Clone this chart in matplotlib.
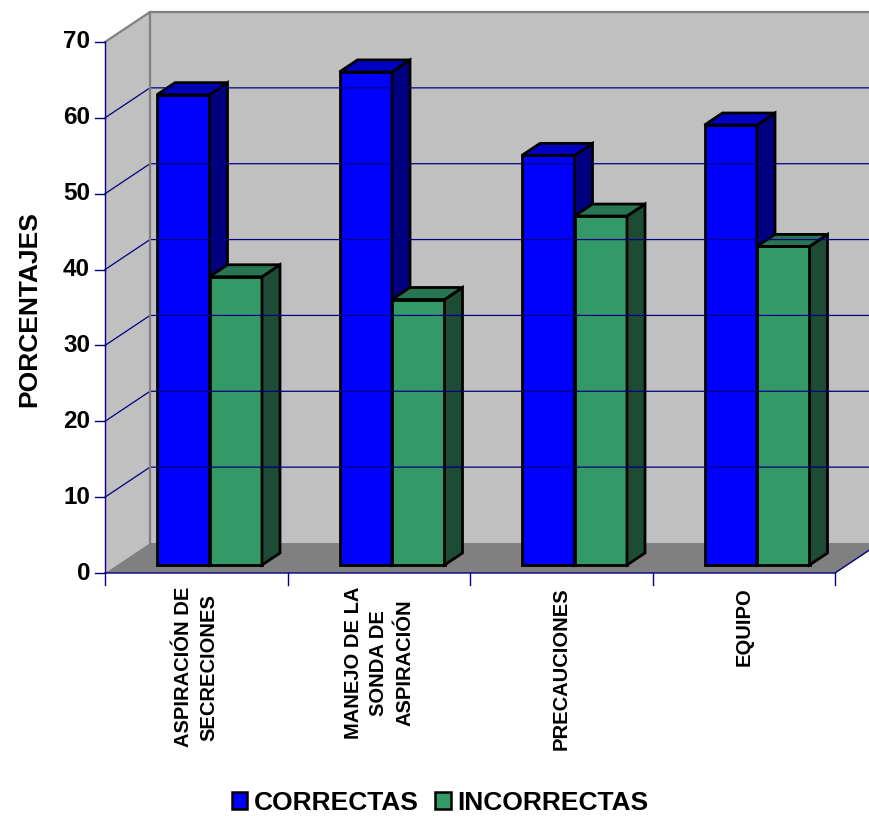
import numpy as np
import matplotlib.pyplot as plt
from matplotlib.patches import Polygon, Patch

plt.rcParams['font.family'] = ['Liberation Sans', 'DejaVu Sans']
plt.rcParams['font.weight'] = 'bold'

# datos de la encuesta (%)
categorias = ['ASPIRACIÓN DE\nSECRECIONES', 'MANEJO DE LA\nSONDA DE\nASPIRACIÓN',
              'PRECAUCIONES', 'EQUIPO']
correctas = [62, 65, 54, 58]
incorrectas = [38, 35, 46, 42]
series = ['CORRECTAS', 'INCORRECTAS']
y_ticks = np.arange(0, 80, 10)

# colores (frente, lado, tapa)
colores = {
    'CORRECTAS': ('#0000FF', '#000080', '#0000C4'),
    'INCORRECTAS': ('#339966', '#1C4C33', '#287552'),
}

# proyeccion oblicua: profundidad total del grafico en unidades de datos
DX = 45 / 182.5
DY = 30 / (531 / 70)
ANCHO = 52.5 / 182.5
HUECO = 40 / 182.5
D0, D1 = 8 / 30, 20 / 30
YMAX = 70


def P(x, v, d):
    return (x + d * DX, v + d * DY)


fig = plt.figure(figsize=(8.69, 8.16), dpi=100)
ax = fig.add_axes([0, 0, 1, 1])
ax.set_xlim(-105 / 182.5, (869 - 105) / 182.5)
ax.set_ylim(-(816 - 573) / (531 / 70), 573 / (531 / 70))
ax.axis('off')

n = len(categorias)
xr = n + 1  # la pared del fondo sigue hasta el borde

# paredes y piso
ax.add_patch(Polygon([P(0, 0, 0), P(0, YMAX, 0), P(0, YMAX, 1), P(0, 0, 1)],
                     closed=True, facecolor='#C0C0C0', edgecolor='none'))
ax.add_patch(Polygon([P(0, 0, 1), P(xr, 0, 1), P(xr, YMAX, 1), P(0, YMAX, 1)],
                     closed=True, facecolor='#C0C0C0', edgecolor='none'))
ax.add_patch(Polygon([P(0, 0, 0), P(n, 0, 0), P(n, 0, 1), P(0, 0, 1)],
                     closed=True, facecolor='#808080', edgecolor='none'))

# lineas de division
for v in y_ticks[1:-1]:
    pts = [P(0, v, 0), P(0, v, 1), P(xr, v, 1)]
    ax.plot([p[0] for p in pts], [p[1] for p in pts], color='#000080', lw=0.9)

# bordes grises de las paredes
pts = [P(0, YMAX, 0), P(0, YMAX, 1), P(xr, YMAX, 1)]
ax.plot([p[0] for p in pts], [p[1] for p in pts], color='#808080', lw=1.6)
pts = [P(0, YMAX, 1), P(0, 0, 1)]
ax.plot([p[0] for p in pts], [p[1] for p in pts], color='#808080', lw=1.6)

# ejes
ax.plot([0, 0], [0, YMAX], color='#000080', lw=1.0)
pts = [P(0, 0, 0), P(n, 0, 0), P(n, 0, 1)]
ax.plot([p[0] for p in pts], [p[1] for p in pts], color='#000080', lw=1.0)
for v in y_ticks:
    ax.plot([-10 / 182.5, 0], [v, v], color='#000080', lw=1.0)
    ax.text(-15 / 182.5, v, str(v), ha='right', va='center',
            fontsize=17.5, fontweight='bold')
for i in range(n + 1):
    ax.plot([i, i], [0, -12 / (531 / 70)], color='#000080', lw=1.0)

# barras
for i in range(n):
    for j, (nombre, vals) in enumerate(zip(series, [correctas, incorrectas])):
        v = vals[i]
        x0 = i + HUECO + j * ANCHO
        x1 = x0 + ANCHO
        frente, lado, tapa = colores[nombre]
        caras = [
            ([P(x0, 0, D0), P(x1, 0, D0), P(x1, v, D0), P(x0, v, D0)], frente),
            ([P(x1, 0, D0), P(x1, 0, D1), P(x1, v, D1), P(x1, v, D0)], lado),
            ([P(x0, v, D0), P(x1, v, D0), P(x1, v, D1), P(x0, v, D1)], tapa),
        ]
        for pts, c in caras:
            ax.add_patch(Polygon(pts, closed=True, facecolor=c,
                                 edgecolor='black', lw=2.0, joinstyle='miter'))

# etiquetas de categorias
for i, cat in enumerate(categorias):
    ax.text(i + 0.5, -14 / (531 / 70), cat, rotation=90, ha='center', va='top',
            multialignment='center', fontsize=14.5, fontweight='bold',
            linespacing=1.45)

ax.text(-76 / 182.5, (573 - 309) / (531 / 70), 'PORCENTAJES', rotation=90,
        ha='center', va='center', fontsize=19, fontweight='bold')

handles = [Patch(facecolor=colores[s][0], edgecolor='black', lw=1.8) for s in series]
fig.legend(handles, series, loc='center', bbox_to_anchor=(440 / 869, 13 / 816),
           ncol=2, frameon=False, prop={'size': 19, 'weight': 'bold'},
           handlelength=0.6, handleheight=0.6, handletextpad=0.25,
           columnspacing=0.6, borderpad=0.2)

fig.savefig('out.png', dpi=100)
